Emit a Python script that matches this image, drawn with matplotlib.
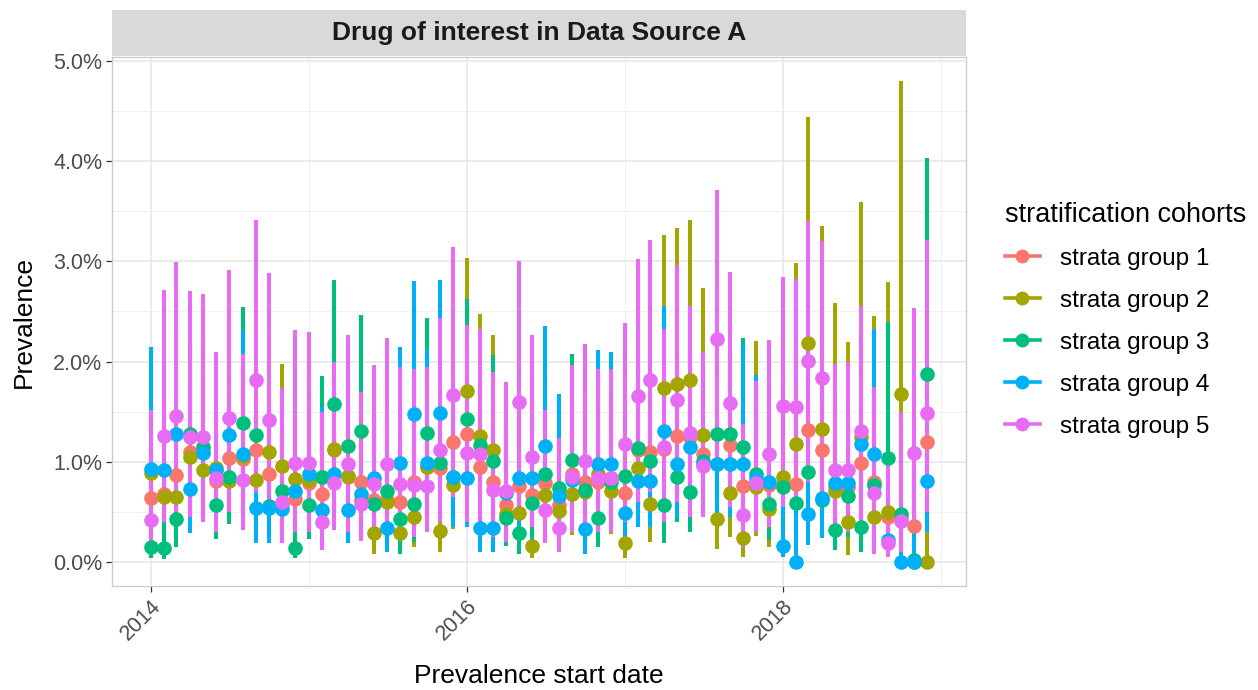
import matplotlib
matplotlib.use("Agg")
import matplotlib.pyplot as plt
import matplotlib.dates as mdates
from matplotlib.lines import Line2D
from matplotlib.ticker import FixedLocator, FuncFormatter
import pandas as pd

plt.rcParams["font.family"] = ["Liberation Sans", "DejaVu Sans"]

# monthly prevalence start dates
dates = pd.date_range("2014-01-01", periods=60, freq="MS")

group_names = ["strata group 1", "strata group 2", "strata group 3",
               "strata group 4", "strata group 5"]
group_colors = ["#F8766D", "#A3A500", "#00BF7D", "#00B0F6", "#E76BF3"]

# prevalence estimates (%)
prev_g1 = [0.64, 0.68, 0.87, 1.10, 1.12, 0.81, 1.04, 1.03, 1.12, 0.88,
           0.57, 0.63, 0.79, 0.68, 1.12, 0.85, 0.80, 0.62, 0.62, 0.60,
           0.80, 0.95, 0.94, 1.20, 1.28, 0.95, 0.80, 0.57, 0.76, 0.67,
           0.79, 0.57, 0.88, 0.80, 0.80, 0.84, 0.69, 1.12, 1.10, 1.13,
           1.26, 1.25, 1.08, 0.98, 1.17, 0.76, 0.80, 0.77, 0.78, 0.78,
           1.32, 1.12, 0.75, 0.75, 0.99, 0.80, 0.45, 0.45, 0.36, 1.20]
prev_g2 = [0.89, 0.65, 0.65, 1.05, 0.92, 0.94, 0.81, 1.06, 0.82, 1.10,
           0.96, 0.83, 0.82, 0.85, 1.13, 0.86, 0.62, 0.29, 0.60, 0.29,
           0.45, 0.95, 0.31, 0.77, 1.71, 1.26, 1.12, 0.48, 0.49, 0.16,
           0.67, 0.51, 0.68, 0.70, 0.88, 0.71, 0.19, 0.94, 0.58, 1.74,
           1.78, 1.82, 1.27, 0.43, 0.69, 0.24, 0.75, 0.53, 0.85, 1.18,
           2.19, 1.33, 0.71, 0.40, 1.25, 0.45, 0.50, 1.68, 0.00, 0.00]
prev_g3 = [0.15, 0.14, 0.43, 1.28, 1.15, 0.57, 0.85, 1.39, 1.27, 0.56,
           0.71, 0.14, 0.57, 0.85, 1.58, 1.16, 1.31, 0.58, 0.71, 0.43,
           0.58, 1.29, 0.99, 0.85, 1.43, 1.17, 1.01, 0.44, 0.29, 0.59,
           0.88, 0.74, 1.02, 0.72, 0.44, 0.80, 0.86, 1.14, 1.01, 0.57,
           0.85, 0.70, 1.01, 1.28, 1.28, 1.15, 0.88, 0.58, 0.75, 0.59,
           0.90, 0.62, 0.32, 0.66, 0.35, 0.77, 1.04, 0.48, 0.02, 1.88]
prev_g4 = [0.93, 0.92, 1.28, 0.73, 1.09, 0.92, 1.27, 1.08, 0.54, 0.54,
           0.53, 0.71, 0.88, 0.52, 0.88, 0.52, 0.68, 0.84, 0.34, 0.99,
           1.48, 0.99, 1.49, 0.85, 0.84, 0.34, 0.34, 0.69, 0.84, 0.84,
           1.16, 0.66, 0.82, 0.33, 0.98, 0.98, 0.49, 0.81, 0.81, 1.31,
           0.98, 1.15, 0.98, 0.98, 0.98, 0.98, 0.84, 0.80, 0.16, 0.00,
           0.48, 0.64, 0.79, 0.79, 1.18, 1.08, 0.22, 0.00, 0.00, 0.81]
prev_g5 = [0.42, 1.26, 1.46, 1.25, 1.25, 0.84, 1.44, 0.82, 1.82, 1.42,
           0.60, 0.99, 0.99, 0.40, 0.79, 0.98, 0.58, 0.78, 0.98, 0.78,
           0.77, 0.76, 1.12, 1.67, 1.09, 1.08, 0.72, 0.71, 1.60, 1.05,
           0.52, 0.34, 0.85, 1.01, 0.84, 0.84, 1.18, 1.66, 1.82, 1.15,
           1.62, 1.29, 0.96, 2.23, 1.59, 0.47, 0.79, 1.08, 1.56, 1.55,
           2.01, 1.84, 0.92, 0.92, 1.31, 0.69, 0.19, 0.41, 1.09, 1.49]

# upper confidence limits (%)
upper_g1 = [1.40, 1.50, 1.70, 2.00, 2.00, 1.60, 1.90, 1.90, 2.00, 1.70,
            1.40, 1.45, 1.60, 1.50, 1.90, 1.65, 1.60, 1.40, 1.40, 1.40,
            1.60, 1.80, 1.80, 2.05, 2.15, 1.80, 1.60, 1.40, 1.60, 1.50,
            1.60, 1.30, 1.70, 1.60, 1.60, 1.65, 1.50, 2.00, 1.95, 2.00,
            2.10, 2.10, 1.90, 1.85, 2.00, 1.60, 1.60, 1.60, 1.60, 1.65,
            2.20, 2.00, 1.55, 1.55, 1.85, 1.60, 1.30, 1.30, 1.10, 2.05]
upper_g2 = [1.45, 1.45, 1.50, 2.10, 1.80, 1.70, 1.70, 1.95, 1.70, 2.00,
            1.98, 1.70, 1.70, 1.75, 1.95, 1.75, 1.50, 1.20, 1.45, 1.20,
            1.40, 1.85, 1.30, 1.70, 3.03, 2.47, 2.27, 1.40, 1.45, 1.00,
            1.60, 1.25, 1.60, 1.60, 1.80, 1.60, 1.00, 1.85, 1.50, 3.26,
            3.33, 3.41, 2.73, 1.35, 1.60, 1.10, 2.21, 1.45, 1.80, 2.98,
            4.44, 3.35, 2.58, 2.20, 3.59, 2.45, 2.79, 4.80, 0.90, 1.20]
upper_g3 = [0.95, 0.90, 1.30, 2.20, 2.20, 1.50, 1.80, 2.54, 2.30, 1.50,
            1.60, 0.95, 1.45, 1.86, 2.81, 2.20, 2.46, 1.50, 1.60, 1.30,
            1.50, 2.43, 1.95, 1.85, 2.62, 2.25, 2.07, 1.35, 1.20, 1.50,
            1.80, 1.60, 2.08, 1.65, 1.35, 1.70, 1.80, 2.15, 2.00, 1.50,
            1.80, 1.60, 1.95, 2.25, 2.25, 2.24, 1.80, 1.50, 1.65, 1.55,
            1.85, 1.60, 1.20, 1.60, 1.25, 1.70, 2.40, 1.40, 0.90, 4.03]
upper_g4 = [2.15, 2.00, 2.30, 1.80, 2.10, 1.95, 2.35, 2.32, 1.60, 1.60,
            1.50, 1.70, 1.85, 1.55, 1.85, 1.50, 1.60, 1.80, 1.20, 2.15,
            2.80, 2.13, 2.81, 1.85, 1.85, 1.20, 1.20, 1.70, 1.85, 1.85,
            2.36, 1.68, 1.80, 1.20, 2.12, 2.10, 1.45, 1.80, 1.80, 2.55,
            2.00, 2.20, 1.95, 1.95, 1.95, 2.17, 1.87, 1.80, 0.95, 0.80,
            1.45, 1.60, 1.75, 1.75, 2.30, 2.33, 1.10, 0.80, 0.80, 1.75]
upper_g5 = [1.52, 2.71, 2.99, 2.70, 2.67, 2.10, 2.91, 2.08, 3.41, 2.88,
            1.74, 2.32, 2.30, 1.50, 2.00, 2.27, 1.70, 1.97, 2.24, 1.95,
            1.93, 1.95, 2.43, 3.14, 2.37, 2.33, 1.90, 1.80, 3.00, 2.27,
            1.52, 1.24, 1.97, 2.18, 1.93, 1.93, 2.39, 3.02, 3.21, 2.33,
            2.96, 2.55, 2.10, 3.71, 2.89, 1.38, 1.81, 2.22, 2.84, 2.82,
            3.40, 3.20, 1.98, 2.00, 2.55, 1.75, 1.00, 1.50, 2.53, 3.21]

# lower confidence limits (%)
lower_g1 = [0.20, 0.22, 0.35, 0.50, 0.55, 0.35, 0.50, 0.50, 0.55, 0.40,
            0.20, 0.25, 0.35, 0.30, 0.55, 0.40, 0.35, 0.25, 0.25, 0.25,
            0.35, 0.45, 0.45, 0.60, 0.65, 0.45, 0.35, 0.22, 0.35, 0.30,
            0.35, 0.22, 0.40, 0.35, 0.35, 0.40, 0.30, 0.55, 0.55, 0.55,
            0.60, 0.60, 0.50, 0.45, 0.55, 0.35, 0.35, 0.35, 0.35, 0.35,
            0.65, 0.55, 0.35, 0.35, 0.45, 0.35, 0.15, 0.15, 0.10, 0.55]
lower_g2 = [0.35, 0.20, 0.20, 0.45, 0.58, 0.40, 0.40, 0.50, 0.35, 0.50,
            0.40, 0.35, 0.35, 0.35, 0.55, 0.40, 0.25, 0.08, 0.20, 0.09,
            0.15, 0.40, 0.10, 0.33, 0.80, 0.55, 0.45, 0.18, 0.15, 0.04,
            0.25, 0.18, 0.27, 0.28, 0.38, 0.28, 0.04, 0.40, 0.20, 0.80,
            0.85, 0.85, 0.55, 0.13, 0.25, 0.05, 0.26, 0.15, 0.35, 0.40,
            0.90, 0.45, 0.20, 0.07, 0.35, 0.10, 0.10, 0.45, 0.00, 0.00]
lower_g3 = [0.04, 0.03, 0.15, 0.55, 0.50, 0.23, 0.38, 0.65, 0.60, 0.20,
            0.25, 0.04, 0.23, 0.35, 0.75, 0.50, 0.60, 0.22, 0.28, 0.08,
            0.20, 0.55, 0.40, 0.35, 0.65, 0.50, 0.45, 0.16, 0.08, 0.22,
            0.40, 0.28, 0.45, 0.28, 0.15, 0.35, 0.38, 0.50, 0.45, 0.19,
            0.40, 0.30, 0.45, 0.60, 0.60, 0.50, 0.40, 0.22, 0.30, 0.22,
            0.40, 0.25, 0.12, 0.25, 0.10, 0.30, 0.45, 0.15, 0.00, 0.75]
lower_g4 = [0.30, 0.39, 0.55, 0.29, 0.45, 0.40, 0.62, 0.45, 0.19, 0.19,
            0.19, 0.29, 0.40, 0.20, 0.40, 0.19, 0.28, 0.35, 0.10, 0.45,
            0.70, 0.45, 0.70, 0.35, 0.35, 0.10, 0.10, 0.25, 0.35, 0.35,
            0.55, 0.25, 0.35, 0.08, 0.40, 0.40, 0.18, 0.35, 0.35, 0.60,
            0.45, 0.50, 0.45, 0.45, 0.45, 0.45, 0.35, 0.35, 0.05, 0.00,
            0.17, 0.24, 0.30, 0.30, 0.50, 0.45, 0.05, 0.00, 0.00, 0.30]
lower_g5 = [0.10, 0.40, 0.50, 0.45, 0.40, 0.30, 0.50, 0.32, 0.70, 0.50,
            0.19, 0.30, 0.30, 0.12, 0.32, 0.30, 0.21, 0.25, 0.30, 0.25,
            0.25, 0.30, 0.40, 0.65, 0.40, 0.40, 0.25, 0.20, 0.55, 0.35,
            0.19, 0.10, 0.30, 0.35, 0.30, 0.30, 0.40, 0.60, 0.70, 0.40,
            0.60, 0.45, 0.45, 0.95, 0.55, 0.15, 0.30, 0.35, 0.55, 0.55,
            0.80, 0.70, 0.30, 0.30, 0.40, 0.08, 0.05, 0.10, 0.30, 0.50]

prevs = [prev_g1, prev_g2, prev_g3, prev_g4, prev_g5]
uppers = [upper_g1, upper_g2, upper_g3, upper_g4, upper_g5]
lowers = [lower_g1, lower_g2, lower_g3, lower_g4, lower_g5]

W, H = 1258, 690
fig = plt.figure(figsize=(W / 100, H / 100), dpi=100)
ax = fig.add_axes([112 / W, 1 - 586 / H, 854 / W, 529 / H])
ax.set_facecolor("white")

# ranges first (ggplot draws all lines, then all points)
for pv, lo, up, col in zip(prevs, lowers, uppers, group_colors):
    ax.vlines(dates, lo, up, colors=col, linewidth=2.9, zorder=2)
for pv, col in zip(prevs, group_colors):
    ax.plot(dates, pv, "o", color=col, markersize=10.5, markeredgewidth=0, zorder=3)

# scales
x0 = pd.Timestamp("2014-01-01")
x1 = pd.Timestamp("2018-12-01")
pad = (x1 - x0) * 0.05
ax.set_xlim(x0 - pad, x1 + pad)
ax.set_ylim(-0.24, 5.04)

ax.xaxis.set_major_locator(FixedLocator(mdates.date2num(
    [pd.Timestamp("2014-01-01"), pd.Timestamp("2016-01-01"), pd.Timestamp("2018-01-01")])))
ax.xaxis.set_minor_locator(FixedLocator(mdates.date2num(
    [pd.Timestamp("2015-01-01"), pd.Timestamp("2017-01-01"), pd.Timestamp("2019-01-01")])))
ax.xaxis.set_major_formatter(mdates.DateFormatter("%Y"))
ax.yaxis.set_major_locator(FixedLocator([0, 1, 2, 3, 4, 5]))
ax.yaxis.set_minor_locator(FixedLocator([0.5, 1.5, 2.5, 3.5, 4.5]))
ax.yaxis.set_major_formatter(FuncFormatter(lambda v, p: f"{v:.1f}%"))

ax.grid(which="major", color="#E5E5E5", linewidth=1.1, zorder=0)
ax.grid(which="minor", color="#F0F0F0", linewidth=0.7, zorder=0)
ax.set_axisbelow(True)

for s in ax.spines.values():
    s.set_color("#CCCCCC")
    s.set_linewidth(1.0)

ax.tick_params(which="major", length=4, width=0.9, color="#333333",
               labelsize=15.5, labelcolor="#4D4D4D", pad=3)
ax.tick_params(which="minor", length=0)
for lab in ax.get_xticklabels():
    lab.set_rotation(45)
    lab.set_ha("right")
    lab.set_rotation_mode("anchor")

ax.set_xlabel("Prevalence start date", fontsize=19, labelpad=14)
ax.set_ylabel("Prevalence", fontsize=19, labelpad=12)

# facet strip
strip = fig.add_axes([112 / W, 1 - 56 / H, 854 / W, 46 / H])
strip.set_facecolor("#D9D9D9")
strip.set_xticks([])
strip.set_yticks([])
for s in strip.spines.values():
    s.set_visible(False)
strip.text(0.5, 0.5, "Drug of interest in Data Source A", ha="center", va="center",
           fontsize=19, fontweight="bold", color="#1A1A1A", transform=strip.transAxes)

# legend
handles = [Line2D([0], [0], color=c, marker="o", markersize=10, linewidth=2.6,
                  markeredgewidth=0) for c in group_colors]
leg = fig.legend(handles, group_names, title="stratification cohorts",
                 loc="upper left", bbox_to_anchor=(983 / W, 1 - 180 / H),
                 frameon=False, fontsize=17.5, title_fontsize=19.5,
                 handlelength=1.45, handletextpad=0.8, labelspacing=0.82)
leg._legend_box.align = "left"

fig.savefig("out.png", dpi=100)
